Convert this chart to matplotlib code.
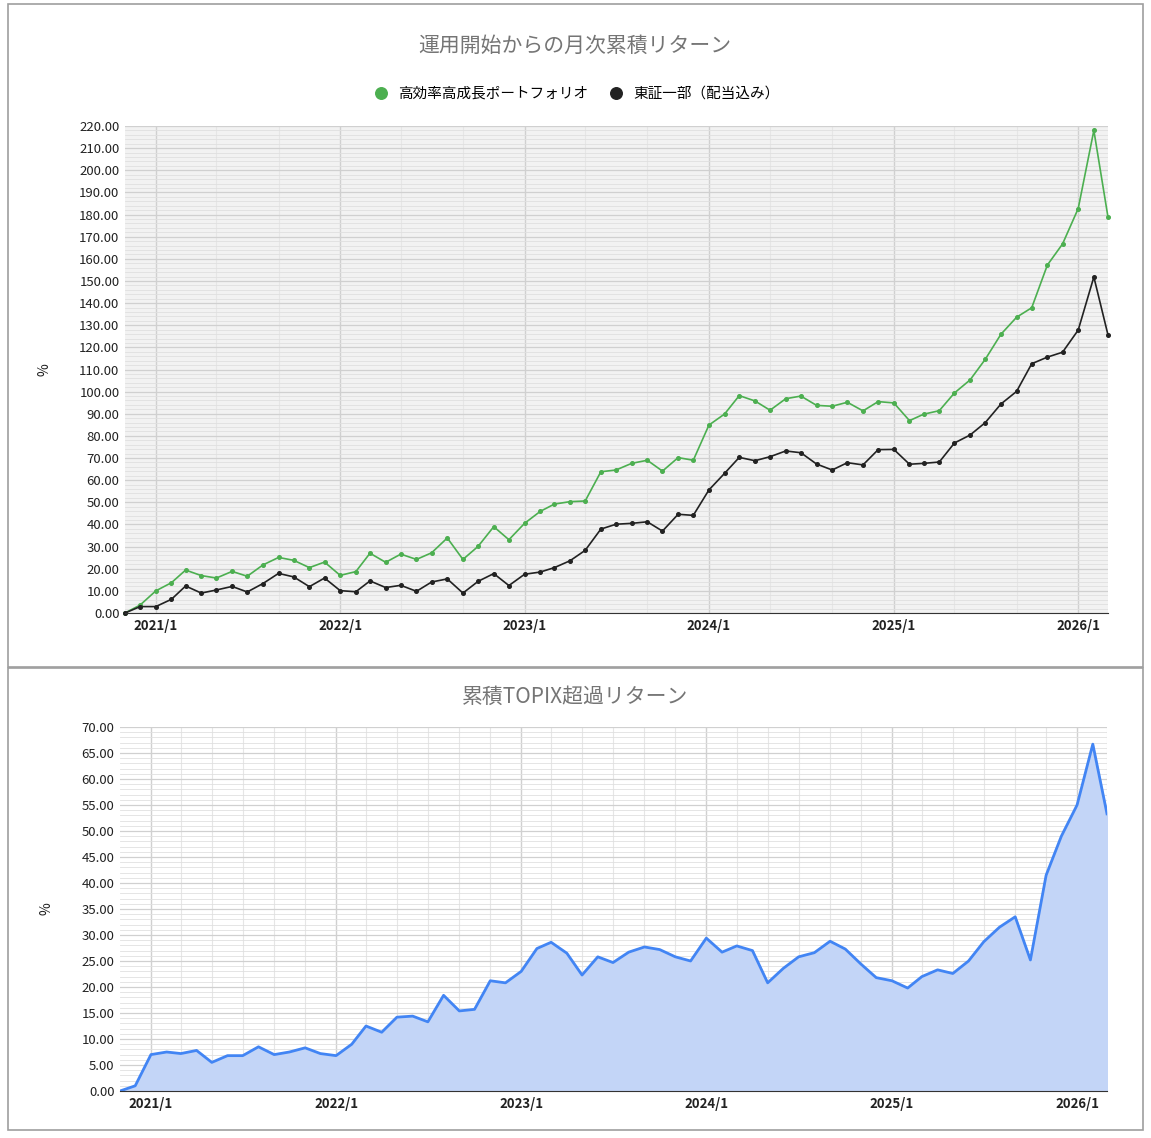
import matplotlib
matplotlib.use("Agg")
import matplotlib.pyplot as plt
import matplotlib.dates as mdates
import numpy as np
import pandas as pd

plt.rcParams['font.family'] = ['Noto Sans CJK JP', 'DejaVu Sans']

dates = pd.date_range("2020-11-01", "2026-03-01", freq="MS")
portfolio = [0, 3.6, 10, 13.7, 19.4, 16.9, 15.8, 18.8, 16.6, 21.7, 25.1, 23.8, 20.5, 23, 17, 18.7,
             27, 22.9, 26.6, 24.2, 27.2, 33.9, 24.2, 30.1, 39, 33.1, 40.5, 45.9, 49.2, 50.3, 50.6, 63.8, 64.6,
             67.6, 69, 64.1, 70.2, 69, 84.9, 89.9, 98.2, 95.8, 91.6, 96.8, 98, 93.8, 93.4, 95.2, 91.3, 95.5,
             94.9, 86.9, 89.8, 91.4, 99.4, 105.3, 114.6, 125.9, 133.6, 137.9, 157.2, 166.7, 182.7, 218, 178.8]
topix = [0, 2.9, 2.9, 6.2, 12.2, 9, 10.4, 12, 9.5, 13.3, 17.9, 16.3, 11.9, 15.8, 10.1, 9.6,
         14.5, 11.5, 12.5, 9.8, 14, 15.4, 9, 14.3, 17.8, 12.4, 17.5, 18.5, 20.5, 23.6, 28.3, 37.9, 40.1,
         40.5, 41.2, 37, 44.6, 44.1, 55.6, 63.1, 70.3, 68.8, 70.6, 73.2, 72.4, 67.3, 64.6, 67.9, 66.9, 73.8,
         73.9, 67.2, 67.6, 68.2, 76.8, 80.4, 86, 94.4, 100.1, 112.6, 115.6, 117.8, 127.8, 151.8, 125.6]
excess = [0, 1, 7, 7.5, 7.2, 7.8, 5.5, 6.8, 6.8, 8.5, 7.0, 7.5, 8.3, 7.2, 6.8, 9, 12.5, 11.3, 14.2,
          14.4, 13.3, 18.4, 15.4, 15.7, 21.2, 20.8, 23, 27.4, 28.6, 26.5, 22.3, 25.8, 24.7, 26.7, 27.7,
          27.2, 25.8, 25, 29.4, 26.7, 27.9, 27, 20.8, 23.6, 25.8, 26.6, 28.8, 27.3, 24.4, 21.8, 21.2, 19.8,
          22.0, 23.3, 22.6, 25.0, 28.7, 31.5, 33.5, 25.2, 41.5, 49, 55, 66.7, 53.3]
year_ticks = pd.to_datetime(["2021-01-01", "2022-01-01", "2023-01-01", "2024-01-01", "2025-01-01", "2026-01-01"])
year_labels = ["2021/1", "2022/1", "2023/1", "2024/1", "2025/1", "2026/1"]

W, H = 1151, 1138
fig = plt.figure(figsize=(W / 100, H / 100), dpi=100)

def rect(x0, y0, x1, y1):
    return [x0 / W, 1 - y1 / H, (x1 - x0) / W, (y1 - y0) / H]

for (x0, y0, x1, y1) in [(8, 4, 1143, 667), (8, 668, 1143, 1130)]:
    fig.patches.append(plt.Rectangle((x0 / W, 1 - y1 / H), (x1 - x0) / W, (y1 - y0) / H,
                                     transform=fig.transFigure, fill=False, ec="#9e9e9e", lw=1.2))

def style(ax, ymax, ystep, minor, vmonths, bg):
    ax.set_facecolor(bg)
    ax.set_ylim(0, ymax)
    ax.set_xlim(dates[0], dates[-1])
    ax.set_yticks(np.arange(0, ymax + 0.01, ystep))
    ax.set_yticklabels([f"{v:.2f}" for v in np.arange(0, ymax + 0.01, ystep)], fontsize=9.5, color="#222222")
    ax.set_yticks(np.arange(0, ymax + 0.01, minor), minor=True)
    vlines = pd.date_range("2021-01-01", "2026-03-01", freq=f"{vmonths}MS")
    ax.set_xticks(vlines, minor=True)
    ax.set_xticks(year_ticks)
    ax.set_xticklabels(year_labels, fontsize=9.5, fontweight="bold", color="#222222")
    ax.grid(True, which="minor", axis="y", color="#e0e0e0", lw=0.6)
    ax.grid(True, which="major", axis="y", color="#d0d0d0", lw=0.9)
    ax.grid(True, which="minor", axis="x", color="#e6e6e6", lw=0.8)
    ax.grid(True, which="major", axis="x", color="#d0d0d0", lw=1.0)
    ax.tick_params(which="both", length=0, pad=4)
    for s in ["top", "right", "left"]:
        ax.spines[s].set_visible(False)
    ax.spines["bottom"].set_color("#333333")
    ax.set_axisbelow(True)
    ax.set_ylabel("%", fontsize=10, color="#222222", labelpad=20)

ax1 = fig.add_axes(rect(125, 126, 1108, 613))
style(ax1, 220, 10, 2, 4, "#f2f2f2")
ax1.plot(dates, portfolio, color="#4caf50", lw=1.2, marker="o", ms=2.6, label="高効率高成長ポートフォリオ", clip_on=False)
ax1.plot(dates, topix, color="#222222", lw=1.2, marker="o", ms=2.6, label="東証一部（配当込み）", clip_on=False)
fig.text(575 / W, 1 - 46 / H, "運用開始からの月次累積リターン", ha="center", va="center", fontsize=15, color="#757575")
leg = ax1.legend(loc="lower center", bbox_to_anchor=(0.46, 1.025), ncol=2, frameon=False, fontsize=10.5,
                 handlelength=0.8, columnspacing=1.5, markerscale=3.2)
for h in leg.legend_handles:
    h.set_linestyle("none")

ax2 = fig.add_axes(rect(120, 727, 1107, 1091))
style(ax2, 70, 5, 1, 2, "#ffffff")
ax2.fill_between(dates, excess, color="#c3d5f7", alpha=1.0)
ax2.plot(dates, excess, color="#4285f4", lw=2)
fig.text(575 / W, 1 - 697 / H, "累積TOPIX超過リターン", ha="center", va="center", fontsize=15, color="#757575")

fig.savefig("out.png", dpi=100, facecolor="white")
